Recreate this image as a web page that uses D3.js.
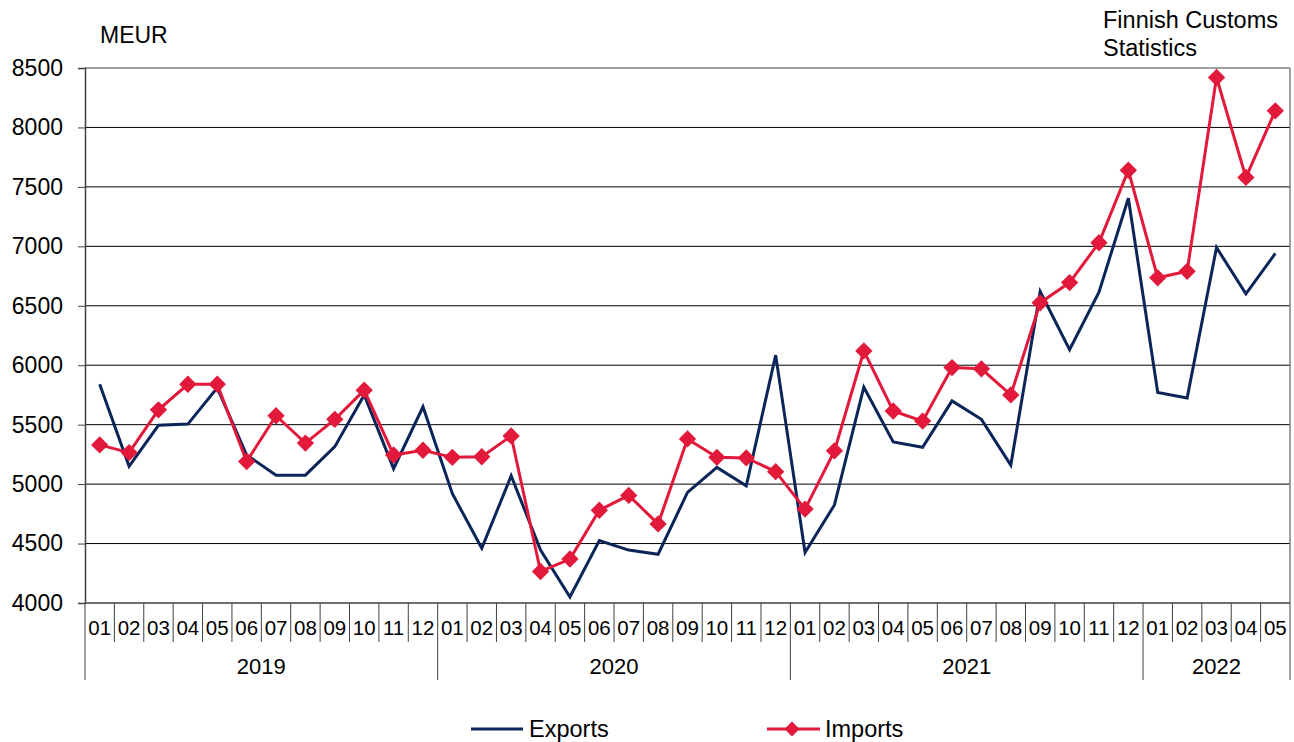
<!DOCTYPE html>
<html>
<head>
<meta charset="utf-8">
<script src="https://cdn.jsdelivr.net/npm/d3@7"></script>
<style>
  body { margin: 0; background: #fff; }
  text { font-family: "Liberation Sans", Arial, sans-serif; fill: #000; }
</style>
</head>
<body>
<div id="main"></div>
<script>
// months, Jan 2019 .. May 2022
const years = ["2019", "2020", "2021", "2022"];
const monthsPerYear = [12, 12, 12, 5];

const exportsData = [
  5840, 5150, 5495, 5505, 5810, 5245, 5075, 5075, 5315, 5750, 5130, 5650,
  4920, 4460, 5070, 4445, 4050, 4525, 4445, 4410, 4930, 5140, 4985, 6085,
  4425, 4825, 5815, 5355, 5310, 5700, 5545, 5160, 6620, 6130, 6615, 7405,
  5770, 5725, 6990, 6600, 6940
];
const importsData = [
  5330, 5265, 5625, 5840, 5840, 5190, 5575, 5345, 5545, 5790, 5245, 5285,
  5225, 5230, 5405, 4265, 4370, 4780, 4905, 4665, 5380, 5225, 5220, 5105,
  4790, 5280, 6120, 5615, 5530, 5980, 5970, 5750, 6525, 6695, 7030, 7640,
  6735, 6790, 8420, 7580, 8140
];
const yTicks = [4000, 4500, 5000, 5500, 6000, 6500, 7000, 7500, 8000, 8500];

// build category keys
const cats = [];
years.forEach((yr, i) => {
  for (let m = 1; m <= monthsPerYear[i]; m++) {
    cats.push({ key: yr + "-" + String(m).padStart(2, "0"), year: yr, month: String(m).padStart(2, "0") });
  }
});

const W = 1294, H = 742;
const plot = { left: 85, right: 1290, top: 68, bottom: 603 };

const svg = d3.select("#main").append("svg")
  .attr("width", W).attr("height", H);

const x = d3.scaleBand().domain(cats.map(d => d.key)).range([plot.left, plot.right]).padding(0);
const y = d3.scaleLinear().domain([4000, 8500]).range([plot.bottom, plot.top]);

// gridlines
svg.append("g").selectAll("line")
  .data(yTicks.slice(1))
  .join("line")
  .attr("x1", plot.left).attr("x2", plot.right)
  .attr("y1", d => y(d)).attr("y2", d => y(d))
  .attr("stroke", d => d === 8500 ? "#808080" : "#000")
  .attr("stroke-width", d => d === 8500 ? 1.5 : 1);

// right border
svg.append("line")
  .attr("x1", plot.right).attr("x2", plot.right).attr("y1", plot.top).attr("y2", plot.bottom)
  .attr("stroke", "#808080").attr("stroke-width", 1.5);

// y axis
const yAxis = d3.axisLeft(y).tickValues(yTicks).tickSize(7).tickPadding(15).tickFormat(d3.format("d"));
const gy = svg.append("g").attr("transform", `translate(${plot.left},0)`).call(yAxis);
gy.select(".domain").attr("stroke", "#404040").attr("stroke-width", 1.5);
gy.selectAll(".tick line").attr("stroke", "#404040");
gy.selectAll(".tick text").attr("font-size", 23).attr("fill", "#000")
  .style("font-family", '"Liberation Sans", Arial, sans-serif');

// x axis base line
svg.append("line")
  .attr("x1", plot.left).attr("x2", plot.right).attr("y1", plot.bottom).attr("y2", plot.bottom)
  .attr("stroke", "#404040").attr("stroke-width", 1.5);

// month separators and labels
const xg = svg.append("g");
xg.selectAll("line.sep")
  .data(cats)
  .join("line")
  .attr("class", "sep")
  .attr("x1", d => x(d.key)).attr("x2", d => x(d.key))
  .attr("y1", plot.bottom)
  .attr("y2", d => d.month === "01" ? 680 : 642)
  .attr("stroke", "#404040").attr("stroke-width", 1);
xg.append("line")
  .attr("x1", plot.right).attr("x2", plot.right).attr("y1", plot.bottom).attr("y2", 680)
  .attr("stroke", "#404040").attr("stroke-width", 1);
xg.selectAll("text.month")
  .data(cats)
  .join("text")
  .attr("class", "month")
  .attr("x", d => x(d.key) + x.bandwidth() / 2)
  .attr("y", 635)
  .attr("text-anchor", "middle")
  .attr("font-size", 20.5)
  .text(d => d.month);

// year labels
years.forEach(yr => {
  const ks = cats.filter(c => c.year === yr);
  const x0 = x(ks[0].key), x1 = x(ks[ks.length - 1].key) + x.bandwidth();
  xg.append("text")
    .attr("x", (x0 + x1) / 2).attr("y", 674)
    .attr("text-anchor", "middle").attr("font-size", 22)
    .text(yr);
});

// lines
const expColor = "#0b2559", impColor = "#e2193b";
const line = d3.line()
  .x((d, i) => x(cats[i].key) + x.bandwidth() / 2)
  .y(d => y(d));

svg.append("path").datum(exportsData)
  .attr("d", line).attr("fill", "none")
  .attr("stroke", expColor).attr("stroke-width", 3);

svg.append("path").datum(importsData)
  .attr("d", line).attr("fill", "none")
  .attr("stroke", impColor).attr("stroke-width", 3);

const diamond = d3.symbol().type(d3.symbolSquare).size(150);
svg.append("g").selectAll("path")
  .data(importsData)
  .join("path")
  .attr("d", diamond)
  .attr("transform", (d, i) => `translate(${x(cats[i].key) + x.bandwidth() / 2},${y(d)}) rotate(45)`)
  .attr("fill", impColor);

// titles
svg.append("text").attr("x", 100).attr("y", 43).attr("font-size", 23).text("MEUR");
svg.append("text").attr("x", 1103).attr("y", 28).attr("font-size", 23.5).text("Finnish Customs");
svg.append("text").attr("x", 1103).attr("y", 56).attr("font-size", 23.5).text("Statistics");

// legend
const lg = svg.append("g");
lg.append("line").attr("x1", 471).attr("x2", 523).attr("y1", 729).attr("y2", 729)
  .attr("stroke", expColor).attr("stroke-width", 3);
lg.append("text").attr("x", 529).attr("y", 737).attr("font-size", 23.5).text("Exports");
lg.append("line").attr("x1", 767).attr("x2", 820).attr("y1", 729).attr("y2", 729)
  .attr("stroke", impColor).attr("stroke-width", 3);
lg.append("path").attr("d", d3.symbol().type(d3.symbolSquare).size(110))
  .attr("transform", "translate(792,729) rotate(45)").attr("fill", impColor);
lg.append("text").attr("x", 825).attr("y", 737).attr("font-size", 23.5).text("Imports");
</script>
</body>
</html>
